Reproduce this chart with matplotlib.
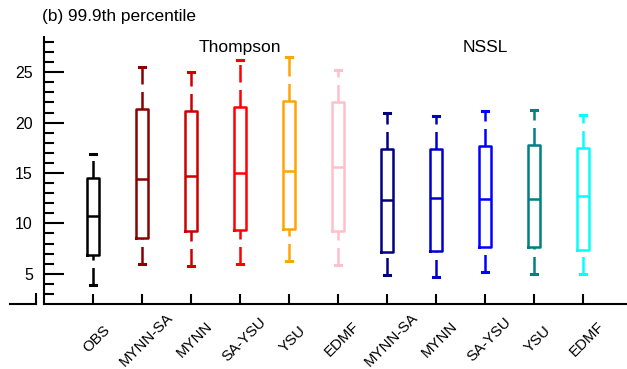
import matplotlib
matplotlib.use("Agg")
import matplotlib.pyplot as plt
from matplotlib.lines import Line2D
import matplotlib.transforms as mtransforms

plt.rcParams["font.family"] = ["Liberation Sans", "DejaVu Sans"]
plt.rcParams["lines.scale_dashes"] = False

# Experiment labels (Thompson microphysics group, then NSSL group)
labels = ["OBS", "MYNN-SA", "MYNN", "SA-YSU", "YSU", "EDMF",
          "MYNN-SA", "MYNN", "SA-YSU", "YSU", "EDMF"]

# Box-plot statistics of the 99.9th percentile
whisker_low = [3.9, 6.0, 5.8, 6.0, 6.3, 5.9, 4.9, 4.7, 5.2, 5.0, 5.0]
q1 = [6.9, 8.6, 9.2, 9.3, 9.4, 9.2, 7.2, 7.3, 7.7, 7.7, 7.4]
median = [10.7, 14.4, 14.7, 15.0, 15.2, 15.6, 12.3, 12.5, 12.4, 12.4, 12.7]
q3 = [14.5, 21.4, 21.2, 21.6, 22.1, 22.0, 17.4, 17.4, 17.7, 17.8, 17.5]
whisker_high = [16.9, 25.5, 25.0, 26.2, 26.5, 25.2, 21.0, 20.7, 21.2, 21.3, 20.8]

colors = ["#000000", "#8B0000", "#CD0000", "#FF0000", "#FFA500", "#FFC0CB",
          "#000080", "#0000CD", "#0000FF", "#008080", "#00FFFF"]

W, H = 627, 369
fig = plt.figure(figsize=(W / 100, H / 100), dpi=100)
ax = fig.add_axes([44 / W, 1 - 304 / H, (W - 44) / W, (304 - 37) / H])

positions = list(range(1, len(labels) + 1))
stats = [dict(med=m, q1=a, q3=b, whislo=lo, whishi=hi, fliers=[])
         for m, a, b, lo, hi in zip(median, q1, q3, whisker_low, whisker_high)]

lw = 1.8
dash = (0, (12.6, 5.4))
res = ax.bxp(stats, positions=positions, widths=0.25, capwidths=0.12,
             showfliers=False, patch_artist=False,
             boxprops=dict(linewidth=lw),
             medianprops=dict(linewidth=lw),
             whiskerprops=dict(linewidth=lw, linestyle=dash),
             capprops=dict(linewidth=2.2))

for i, c in enumerate(colors):
    res["boxes"][i].set_color(c)
    res["medians"][i].set_color(c)
    lo_w, hi_w = res["whiskers"][2 * i], res["whiskers"][2 * i + 1]
    # dash pattern runs upward from the lower end of each whisker
    lo_w.set_ydata(lo_w.get_ydata()[::-1])
    lo_w.set_xdata(lo_w.get_xdata()[::-1])
    for w in (lo_w, hi_w):
        w.set_color(c)
        w.set_dash_capstyle("butt")
    for cap in res["caps"][2 * i:2 * i + 2]:
        cap.set_color(c)

ax.set_xlim(0, 1 + (W - 93) / 49)
ax.set_ylim(2, 28.5)

for s in ("top", "right"):
    ax.spines[s].set_visible(False)
for s in ("left", "bottom"):
    ax.spines[s].set_linewidth(1.5)

ax.set_yticks([5, 10, 15, 20, 25])
ax.set_yticks(range(3, 29), minor=True)
ax.tick_params(axis="y", which="major", direction="in", length=14.4, width=1.5,
               labelsize=11.5, pad=8)
ax.tick_params(axis="y", which="minor", direction="in", length=7.2, width=1.5)

ax.set_xticks(positions)
ax.set_xticklabels(labels, rotation=45, ha="center", va="center",
                   rotation_mode="anchor")
ax.tick_params(axis="x", which="major", direction="in", length=7.2, width=1.5,
               labelsize=10.8, pad=25.5)
ax.tick_params(axis="x", which="minor", bottom=False)
shift = mtransforms.ScaledTranslation(4 / 100, 0, fig.dpi_scale_trans)
for t in ax.get_xticklabels():
    t.set_transform(t.get_transform() + shift)

# Group headers
btr = mtransforms.blended_transform_factory(ax.transData, ax.transAxes)
ax.text(4.0, 0.962, "Thompson", transform=btr, ha="center", va="center",
        fontsize=12.5)
ax.text(9.0, 0.962, "NSSL", transform=btr, ha="center", va="center",
        fontsize=12.5)

fig.text(42 / W, 1 - 17 / H, "(b) 99.9th percentile", ha="left", va="center",
         fontsize=12.4)

# Short stub of the base line left of the value axis
y0 = 1 - 304 / H
fig.add_artist(Line2D([10 / W, 36 / W], [y0, y0], color="black", lw=1.5,
                      transform=fig.transFigure))
fig.add_artist(Line2D([36 / W, 36 / W], [y0, y0 + 10 / H], color="black",
                      lw=1.5, transform=fig.transFigure))

fig.savefig("out.png", dpi=100)
